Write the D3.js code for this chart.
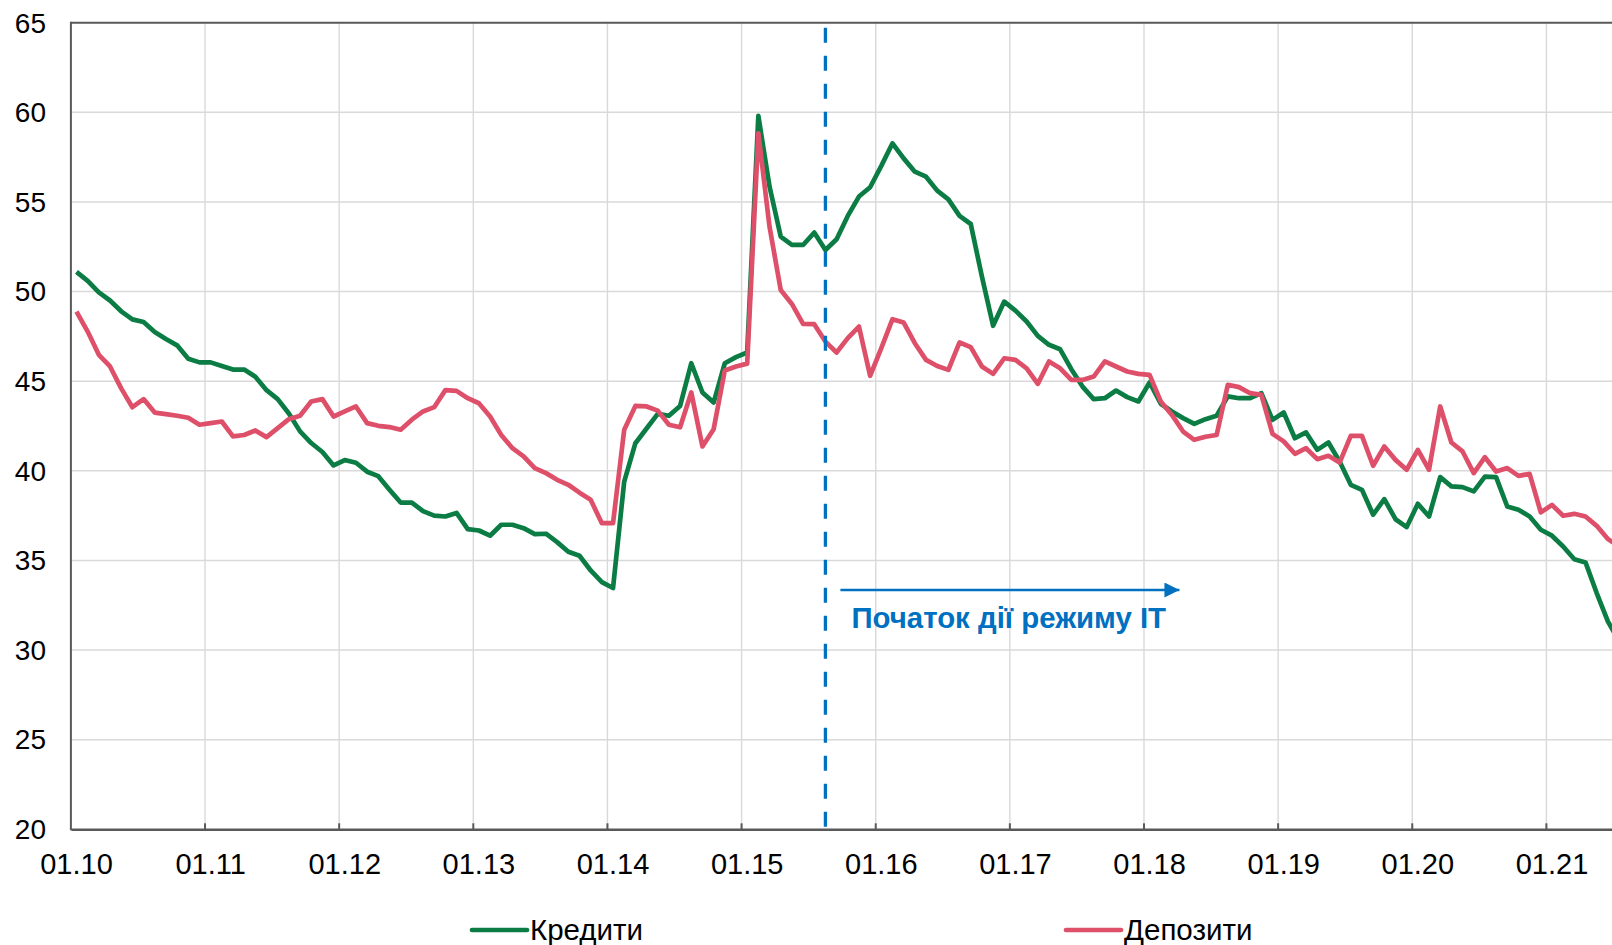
<!DOCTYPE html>
<html>
<head>
<meta charset="utf-8">
<script src="https://cdn.jsdelivr.net/npm/d3@7"></script>
<style>
  html, body { margin: 0; padding: 0; background: #fff; }
  svg { display: block; }
  text { font-family: "Liberation Sans", Arial, sans-serif; }
</style>
</head>
<body>
<svg id="chart" width="1612" height="945"></svg>
<script>
// ---- Data (monthly, starting 01.2010) ----
const startYear = 2010;
const tickLabels = ["01.10","01.11","01.12","01.13","01.14","01.15","01.16","01.17","01.18","01.19","01.20","01.21"];
const yTicks = [20, 25, 30, 35, 40, 45, 50, 55, 60, 65];
const seriesNames = ["Кредити", "Депозити"];
const credits = [
  51.1, 50.6, 49.95, 49.5, 48.9, 48.45, 48.3, 47.75, 47.35, 47.0, 46.25, 46.05,
  46.05, 45.85, 45.65, 45.65, 45.25, 44.5, 44.0, 43.2, 42.2, 41.55, 41.05, 40.3,
  40.6, 40.45, 39.95, 39.7, 38.95, 38.23, 38.23, 37.75, 37.5, 37.45, 37.65, 36.75,
  36.67, 36.38, 36.99, 36.99, 36.8, 36.47, 36.49, 36.02, 35.48, 35.26, 34.44, 33.79,
  33.46, 39.4, 41.54, 42.36, 43.18, 43.07, 43.62, 46.0, 44.37, 43.81, 46.0, 46.34,
  46.6, 59.8, 55.86, 53.07, 52.6, 52.6, 53.29, 52.32, 52.92, 54.22, 55.3, 55.82,
  57.01, 58.27, 57.43, 56.69, 56.41, 55.63, 55.14, 54.22, 53.77, 50.84, 48.09, 49.44,
  48.94, 48.33, 47.53, 47.03, 46.78, 45.67, 44.7, 44.0, 44.05, 44.48, 44.11, 43.87,
  44.93, 43.74, 43.31, 42.94, 42.62, 42.88, 43.07, 44.15, 44.05, 44.05, 44.33, 42.84,
  43.25, 41.82, 42.14, 41.17, 41.58, 40.52, 39.22, 38.94, 37.55, 38.42, 37.3, 36.86,
  38.16, 37.45, 39.65, 39.13, 39.09, 38.85, 39.68, 39.65, 38.01, 37.83, 37.45, 36.71,
  36.38, 35.78, 35.07, 34.89, 33.18, 31.6, 30.5
];
const deposits = [
  48.88, 47.77, 46.47, 45.82, 44.6, 43.55, 44.0, 43.25, 43.16, 43.07, 42.96, 42.57,
  42.66, 42.75, 41.92, 42.0, 42.25, 41.88, 42.38, 42.88, 43.07, 43.87, 44.0, 43.03,
  43.31, 43.59, 42.66, 42.51, 42.44, 42.29, 42.85, 43.31, 43.55, 44.5, 44.46, 44.05,
  43.77, 43.03, 42.0, 41.26, 40.8, 40.15, 39.87, 39.5, 39.22, 38.78, 38.38, 37.08,
  37.08, 42.29, 43.62, 43.59, 43.36, 42.57, 42.43, 44.37, 41.36, 42.32, 45.6, 45.82,
  45.98, 58.83, 53.62, 50.09, 49.31, 48.2, 48.18, 47.21, 46.6, 47.4, 48.05, 45.3,
  46.84, 48.46, 48.27, 47.12, 46.19, 45.85, 45.63, 47.16, 46.9, 45.82, 45.41, 46.28,
  46.19, 45.72, 44.85, 46.1, 45.72, 45.07, 45.07, 45.26, 46.1, 45.82, 45.54, 45.41,
  45.35, 43.87, 43.12, 42.19, 41.73, 41.9, 42.0, 44.8, 44.67, 44.33, 44.24, 42.06,
  41.64, 40.95, 41.26, 40.65, 40.84, 40.46, 41.95, 41.95, 40.28, 41.36, 40.61, 40.06,
  41.17, 40.06, 43.59, 41.58, 41.08, 39.87, 40.76, 39.96, 40.15, 39.72, 39.83, 37.68,
  38.1, 37.49, 37.6, 37.45, 36.93, 36.19, 35.8
];
const itStartIndex = 67;            // 08.15 — start of inflation targeting regime
const annotationText = "Початок дії режиму ІТ";
const colors = { credits: "#0A7C44", deposits: "#DE5069", it: "#0070C0" };

(function () {
  const svg = d3.select("#chart");
  svg.append("rect").attr("width", 1612).attr("height", 945).attr("fill", "#fff");

  const pLeft = 70.9, pTop = 22.7, pBottom = 829.3;
  const monthPx = 11.178;
  const nMonths = 144;
  const x = d3.scaleLinear().domain([0, nMonths]).range([pLeft, pLeft + nMonths * monthPx]);
  const y = d3.scaleLinear().domain([20, 65]).range([pBottom, pTop]);
  const pRight = x(nMonths);

  // gridlines
  const g = svg.append("g");
  g.selectAll("line.hg").data(yTicks.filter(v => v > 20 && v < 65)).join("line")
    .attr("x1", pLeft).attr("x2", pRight)
    .attr("y1", d => y(d)).attr("y2", d => y(d))
    .attr("stroke", "#D9D9D9").attr("stroke-width", 1.4);
  const yearTicks = tickLabels.map((t, k) => k * 12);
  g.selectAll("line.vg").data(yearTicks.filter(m => m > 0)).join("line")
    .attr("x1", d => x(d)).attr("x2", d => x(d))
    .attr("y1", pTop).attr("y2", pBottom)
    .attr("stroke", "#D9D9D9").attr("stroke-width", 1.4);

  // axes
  const axisColor = "#595959";
  svg.append("line").attr("x1", pLeft).attr("x2", pRight).attr("y1", pTop).attr("y2", pTop)
    .attr("stroke", axisColor).attr("stroke-width", 2);
  svg.append("line").attr("x1", pLeft).attr("x2", pLeft).attr("y1", pTop - 1).attr("y2", pBottom + 1)
    .attr("stroke", axisColor).attr("stroke-width", 2);

  const xAxis = d3.axisBottom(x).tickValues(yearTicks).tickSize(0).tickFormat("");
  svg.append("g").attr("transform", `translate(0,${pBottom})`).call(xAxis)
    .call(s => s.select(".domain").attr("stroke", axisColor).attr("stroke-width", 2.5));
  svg.append("g").selectAll("line").data(yearTicks.filter(m => m > 0)).join("line")
    .attr("x1", d => x(d)).attr("x2", d => x(d))
    .attr("y1", pBottom - 6).attr("y2", pBottom)
    .attr("stroke", axisColor).attr("stroke-width", 2);

  // y labels
  svg.append("g").selectAll("text").data(yTicks).join("text")
    .attr("x", 46).attr("y", d => y(d) + 9.8)
    .attr("text-anchor", "end").attr("font-size", 28).attr("fill", "#000")
    .text(d => d);

  // x labels (centered on January category)
  svg.append("g").selectAll("text").data(tickLabels).join("text")
    .attr("x", (d, k) => x(k * 12 + 0.5)).attr("y", 874)
    .attr("text-anchor", "middle").attr("font-size", 29).attr("fill", "#000")
    .text(d => d);

  // series
  const line = d3.line().x((d, i) => x(i + 0.5)).y(d => y(d));
  svg.append("path").datum(credits).attr("d", line)
    .attr("fill", "none").attr("stroke", colors.credits).attr("stroke-width", 4.7)
    .attr("stroke-linejoin", "round");
  svg.append("path").datum(deposits).attr("d", line)
    .attr("fill", "none").attr("stroke", colors.deposits).attr("stroke-width", 4.7)
    .attr("stroke-linejoin", "round");

  // IT regime marker
  const xi = x(itStartIndex + 0.5);
  svg.append("line").attr("x1", xi).attr("x2", xi).attr("y1", pTop + 5).attr("y2", pBottom)
    .attr("stroke", colors.it).attr("stroke-width", 3.3).attr("stroke-dasharray", "15,13");

  // arrow
  const defs = svg.append("defs");
  defs.append("marker").attr("id", "arrow").attr("viewBox", "0 0 10 10")
    .attr("refX", 10).attr("refY", 5).attr("markerUnits", "userSpaceOnUse")
    .attr("markerWidth", 16).attr("markerHeight", 15).attr("orient", "auto")
    .append("path").attr("d", "M0,0 L10,5 L0,10 Z").attr("fill", colors.it);
  svg.append("line").attr("x1", xi + 15).attr("x2", xi + 354).attr("y1", 590).attr("y2", 590)
    .attr("stroke", colors.it).attr("stroke-width", 2.5).attr("marker-end", "url(#arrow)");
  svg.append("text").attr("x", xi + 26).attr("y", 628)
    .attr("font-size", 29.4).attr("font-weight", "bold").attr("fill", colors.it)
    .text(annotationText);

  // legend
  const legend = [
    { name: seriesNames[0], color: colors.credits, x0: 472 },
    { name: seriesNames[1], color: colors.deposits, x0: 1066 }
  ];
  const lg = svg.append("g").selectAll("g").data(legend).join("g");
  lg.append("line").attr("x1", d => d.x0).attr("x2", d => d.x0 + 55)
    .attr("y1", 930).attr("y2", 930)
    .attr("stroke", d => d.color).attr("stroke-width", 4.7).attr("stroke-linecap", "round");
  lg.append("text").attr("x", d => d.x0 + 58).attr("y", 940)
    .attr("font-size", 29.5).attr("fill", "#000").text(d => d.name);
})();
</script>
</body>
</html>
